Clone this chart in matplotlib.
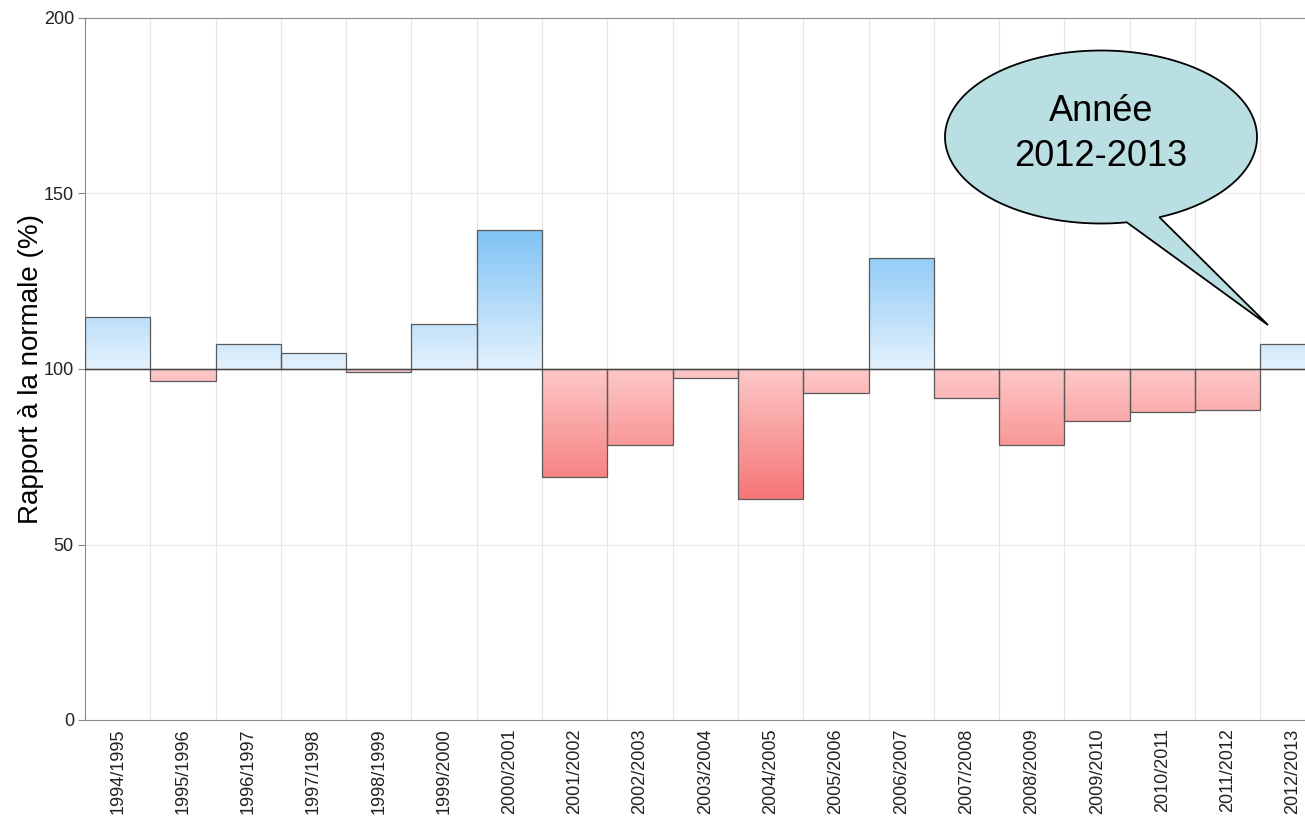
import numpy as np
import matplotlib.pyplot as plt
from matplotlib.colors import LinearSegmentedColormap
from matplotlib.patches import Polygon, Rectangle

seasons = ['1994/1995', '1995/1996', '1996/1997', '1997/1998', '1998/1999',
           '1999/2000', '2000/2001', '2001/2002', '2002/2003', '2003/2004',
           '2004/2005', '2005/2006', '2006/2007', '2007/2008', '2008/2009',
           '2009/2010', '2010/2011', '2011/2012', '2012/2013']
ratio = [114.8, 96.6, 107.1, 104.6, 99.1, 112.8, 139.6, 69.2, 78.3, 97.4,
         63.0, 93.2, 131.6, 91.7, 78.3, 85.2, 87.7, 88.3, 107.1]
normal = 100
callout_text = 'Année\n2012-2013'

plt.rcParams['font.family'] = ['Liberation Sans', 'DejaVu Sans']

W, H = 1305, 816
fig = plt.figure(figsize=(W / 100, H / 100), dpi=100)
# plot area runs past the right edge of the picture (cropped chart)
ax = fig.add_axes([85 / W, 1 - 720 / H, 19 * 65.3 / W, (720 - 18) / H])

blue = LinearSegmentedColormap.from_list('b', ['#e3f1fd', '#7fc3f5'])
red = LinearSegmentedColormap.from_list('r', ['#fdc8c8', '#f67676'])

x = np.arange(len(seasons))
ax.set_xlim(-0.5, len(seasons) - 0.5)
ax.set_ylim(0, 200)

for xi, v in zip(x, ratio):
    lo, hi = min(v, normal), max(v, normal)
    ys = np.linspace(lo, hi, 100)
    if v >= normal:
        cols = blue(np.clip((ys - normal) / 40.0, 0, 1))
    else:
        cols = red(np.clip((normal - ys) / 37.0, 0, 1))
    img = cols[:, None, :]
    im = ax.imshow(img, extent=(xi - 0.5, xi + 0.5, lo, hi), origin='lower',
                   aspect='auto', zorder=2, interpolation='bilinear')
    rect = Rectangle((xi - 0.5, lo), 1, hi - lo, facecolor='none',
                     edgecolor='#5a5a5a', linewidth=0.9, zorder=3)
    ax.add_patch(rect)
    im.set_clip_path(rect)

ax.axhline(normal, color='#444444', linewidth=1.0, zorder=4)

# grid
for b in np.arange(-0.5, len(seasons), 1.0):
    ax.axvline(b, color='#e6e6e6', linewidth=0.8, zorder=0)
for yv in [50, 150]:
    ax.axhline(yv, color='#ececec', linewidth=0.8, zorder=0)

ax.set_yticks([0, 50, 100, 150, 200])
ax.set_xticks(x)
ax.set_xticklabels(seasons, rotation=90, fontsize=13, color='#222222')
ax.tick_params(axis='y', labelsize=13, labelcolor='#222222', length=5,
               color='#888888', pad=3)
ax.tick_params(axis='x', length=0, pad=6)
for s in ['left', 'bottom', 'top']:
    ax.spines[s].set_color('#8a8a8a')
ax.spines['right'].set_visible(False)
ax.set_ylabel('Rapport à la normale (%)', fontsize=20, labelpad=0)

# speech bubble (figure pixel coords, y up)
cx, cy, a, b = 1101, 679, 156, 86.5
base1 = (1127, 593)
base2 = (1160, 598)
tip = (1268, 491)
t1 = np.arctan2((base2[1] - cy) / b, (base2[0] - cx) / a)
t2 = np.arctan2((base1[1] - cy) / b, (base1[0] - cx) / a) + 2 * np.pi
ts = np.linspace(t1, t2, 300)
pts = [(cx + a * np.cos(t), cy + b * np.sin(t)) for t in ts]
pts.append(tip)
pts = [(px / W, py / H) for px, py in pts]
bubble = Polygon(pts, closed=True, transform=fig.transFigure,
                 facecolor='#badfe2', edgecolor='black', linewidth=1.3, zorder=10)
fig.patches.append(bubble)
fig.text(cx / W, 682 / H, callout_text, ha='center', va='center',
         fontsize=26, linespacing=1.35, zorder=11)

fig.savefig('out.png', dpi=100)
